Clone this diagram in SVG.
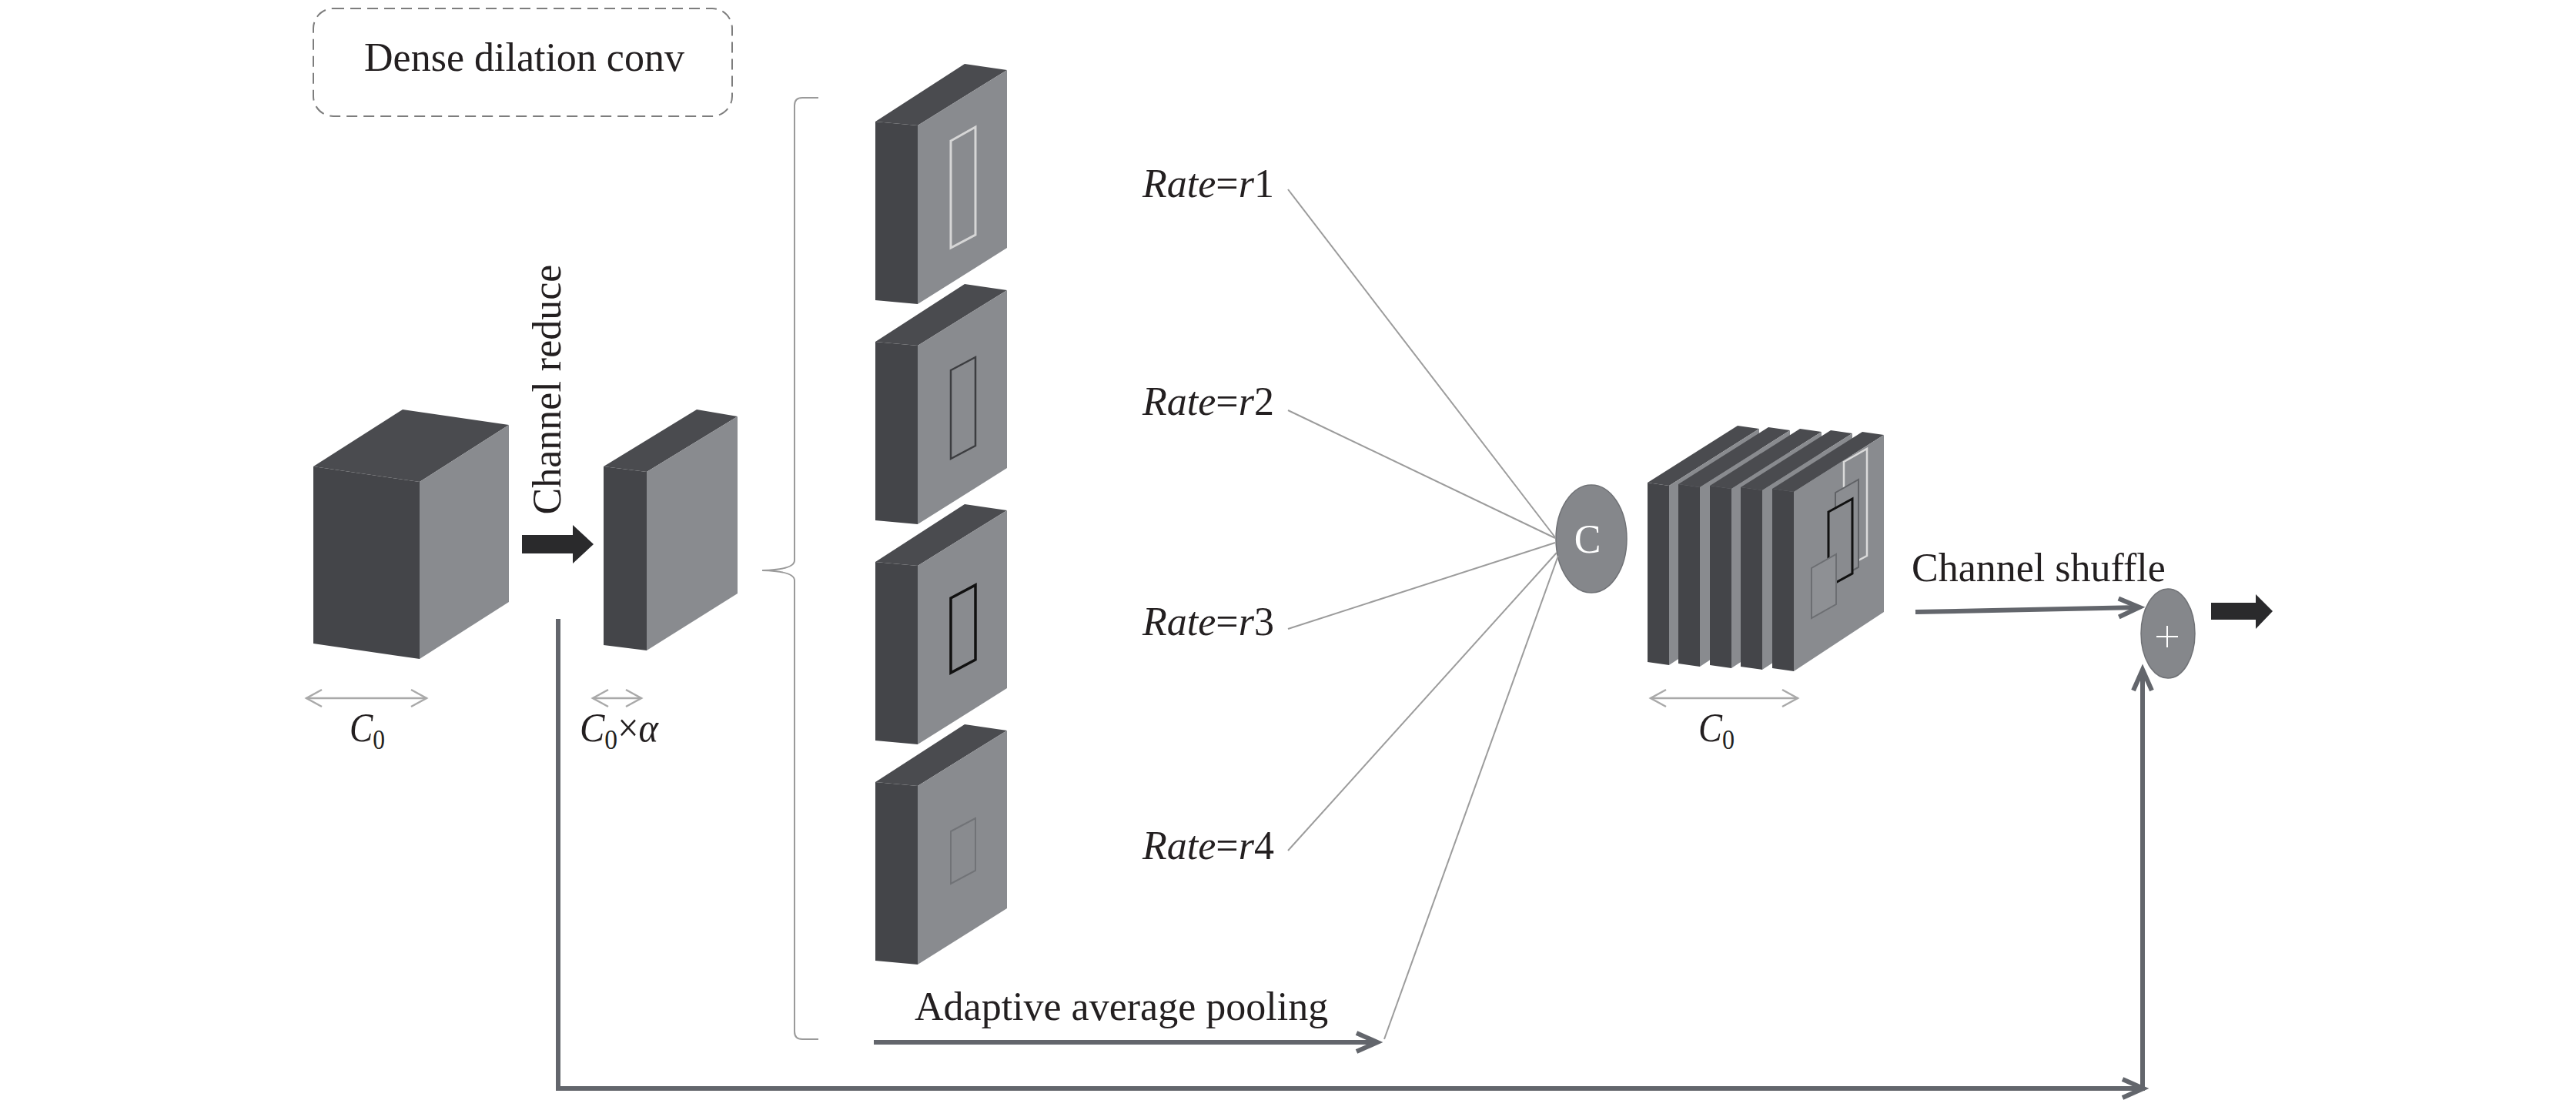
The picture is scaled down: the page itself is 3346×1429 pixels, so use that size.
<svg xmlns="http://www.w3.org/2000/svg" xmlns:xlink="http://www.w3.org/1999/xlink" width="3346" height="1429" viewBox="0 0 3346 1429">
<style>
.txt{font-family:"Liberation Serif","Times New Roman",serif;fill:#231f20;font-size:52px}
.it{font-style:italic}
.dark{fill:#444549}
.top{fill:#4a4b4f}
.light{fill:#898b8f}
.conn{fill:none;stroke:#63666c;stroke-width:6}
.thin{fill:none;stroke:#9c9c9c;stroke-width:2}
.dim{fill:none;stroke:#a9a9a9;stroke-width:2.5}
.blk{fill:#2a2a2c}
.node{fill:#85878b;stroke:#707276;stroke-width:1.5}
</style>
<defs>
<marker id="chev" markerUnits="userSpaceOnUse" viewBox="-34 -18 46 36" markerWidth="46" markerHeight="36" refX="0" refY="0" orient="auto">
<path d="M-27,-12 L0,0 L-27,12" fill="none" stroke="#63666c" stroke-width="6"/>
</marker>
<marker id="dimhead" markerUnits="userSpaceOnUse" viewBox="-26 -15 32 30" markerWidth="32" markerHeight="30" refX="0" refY="0" orient="auto-start-reverse">
<path d="M-20,-11 L0,0 L-20,11" fill="none" stroke="#a9a9a9" stroke-width="2.5"/>
</marker>
<g id="block">
<polygon class="top" points="0,0 116,-75 171,-67 55,5"/>
<polygon class="dark" points="0,0 55,5 55,237 0,232"/>
<polygon class="light" points="55,5 171,-67 171,164 55,237"/>
</g>
<g id="slab">
<polygon class="top" points="0,0 117,-74 145,-70 28,4"/>
<polygon class="dark" points="0,0 28,4 28,237 0,233"/>
<polygon class="light" points="28,4 145,-70 145,160 28,237"/>
</g>
</defs>
<rect width="3346" height="1429" fill="#ffffff"/>

<g id="legend">
<rect x="407" y="11" width="544" height="140" rx="26" fill="none" stroke="#7d7d7d" stroke-width="2" stroke-dasharray="14 8"/>
<text class="txt" x="681" y="92" text-anchor="middle">Dense dilation conv</text>
</g>

<g id="input-cube">
<polygon class="top" points="407,606 523,532 661,552 545,626"/>
<polygon class="dark" points="407,606 545,626 545,856 407,836"/>
<polygon class="light" points="545,626 661,552 661,782 545,856"/>
<line class="dim" x1="398" y1="907" x2="554" y2="907" marker-start="url(#dimhead)" marker-end="url(#dimhead)"/>
<text class="txt it" x="454" y="963" font-size="54" textLength="46" lengthAdjust="spacingAndGlyphs">C<tspan font-style="normal" font-size="36" dy="10">0</tspan></text>
</g>

<g id="channel-reduce">
<text class="txt" transform="translate(728,506) rotate(-90)" text-anchor="middle">Channel reduce</text>
<polygon class="blk" points="678,695 744,695 744,682 771,707 744,732 744,719 678,719"/>
</g>

<g id="reduced-cube">
<polygon class="top" points="784,606 905,532 958,541 840,613"/>
<polygon class="dark" points="784,606 840,613 840,845 784,838"/>
<polygon class="light" points="840,613 958,541 958,771 840,845"/>
<line class="dim" x1="770" y1="907" x2="833" y2="907" marker-start="url(#dimhead)" marker-end="url(#dimhead)"/>
<text class="txt it" x="753" y="963" font-size="54" textLength="102" lengthAdjust="spacingAndGlyphs">C<tspan font-style="normal" font-size="36" dy="10">0</tspan><tspan font-style="normal" dy="-10">×</tspan>α</text>
</g>

<g id="bracket">
<path d="M1063,127 L1042,127 Q1032,127 1032,137 L1032,728 Q1032,740 990,741 Q1032,742 1032,754 L1032,1340 Q1032,1350 1042,1350 L1063,1350" fill="none" stroke="#9a9a9a" stroke-width="2"/>
</g>

<g id="branch-r1">
<use xlink:href="#block" href="#block" x="1137" y="158"/>
<polygon points="1235,183 1267,165 1267,305 1235,322" fill="none" stroke="#d6d6d6" stroke-width="3"/>
</g>
<g id="branch-r2">
<use xlink:href="#block" href="#block" x="1137" y="444"/>
<polygon points="1235,481 1267,464 1267,579 1235,596" fill="none" stroke="#3c3d40" stroke-width="2.5"/>
</g>
<g id="branch-r3">
<use xlink:href="#block" href="#block" x="1137" y="730"/>
<polygon points="1235,777 1267,760 1267,857 1235,874" fill="none" stroke="#111111" stroke-width="3.5"/>
</g>
<g id="branch-r4">
<use xlink:href="#block" href="#block" x="1137" y="1016"/>
<polygon points="1235,1080 1267,1063 1267,1131 1235,1148" fill="none" stroke="#717377" stroke-width="2"/>
</g>

<g id="rate-labels">
<text class="txt" x="1484" y="256"><tspan class="it">Rate</tspan>=<tspan class="it">r</tspan>1</text>
<text class="txt" x="1484" y="539"><tspan class="it">Rate</tspan>=<tspan class="it">r</tspan>2</text>
<text class="txt" x="1484" y="825"><tspan class="it">Rate</tspan>=<tspan class="it">r</tspan>3</text>
<text class="txt" x="1484" y="1116"><tspan class="it">Rate</tspan>=<tspan class="it">r</tspan>4</text>
<text class="txt" x="1188" y="1325">Adaptive average pooling</text>
</g>

<g id="concat">
<ellipse class="node" cx="2067" cy="700" rx="46" ry="70"/>
<text class="txt" x="2062" y="718" font-size="50" fill="#ffffff" style="fill:#ffffff" text-anchor="middle">C</text>
</g>

<g id="concat-output">
<use xlink:href="#slab" href="#slab" x="2140" y="627"/>
<use xlink:href="#slab" href="#slab" x="2180" y="629"/>
<use xlink:href="#slab" href="#slab" x="2221" y="631"/>
<use xlink:href="#slab" href="#slab" x="2261" y="633"/>
<use xlink:href="#slab" href="#slab" x="2302" y="635"/>
<polygon points="2395,600 2425,583 2425,722 2395,738" fill="none" stroke="#dadada" stroke-width="2.5"/>
<polygon points="2384,640 2414,623 2414,737 2384,753" fill="#8b8d91" stroke="#606266" stroke-width="2"/>
<polygon points="2375,665 2406,648 2406,745 2375,762" fill="#898b8f" stroke="#111111" stroke-width="3"/>
<polygon points="2353,738 2385,720 2385,785 2353,803" fill="#8e9094" stroke="#6c6e72" stroke-width="2"/>
<line class="dim" x1="2144" y1="907" x2="2335" y2="907" marker-start="url(#dimhead)" marker-end="url(#dimhead)"/>
<text class="txt it" x="2206" y="963" font-size="54" textLength="47" lengthAdjust="spacingAndGlyphs">C<tspan font-style="normal" font-size="36" dy="10">0</tspan></text>
</g>

<g id="add">
<ellipse class="node" cx="2816" cy="823" rx="35" ry="58"/>
<path d="M2801,827 H2829 M2815,813 V841" stroke="#ffffff" stroke-width="2" fill="none"/>
</g>

<g id="output-arrow">
<polygon class="blk" points="2872,783 2930,783 2930,772 2952,794 2930,817 2930,805 2872,805"/>
</g>

<g id="shuffle-label">
<text class="txt" x="2483" y="755">Channel shuffle</text>
</g>

<g id="connectors">
<line class="thin" x1="1673" y1="246" x2="2020" y2="698"/>
<line class="thin" x1="1673" y1="533" x2="2020" y2="699"/>
<line class="thin" x1="1673" y1="817" x2="2020" y2="705"/>
<line class="thin" x1="1673" y1="1105" x2="2022" y2="718"/>
<line class="thin" x1="1798" y1="1350" x2="2024" y2="722"/>
<line class="conn" x1="1135" y1="1354" x2="1789" y2="1354" marker-end="url(#chev)"/>
<line class="conn" x1="2488" y1="795" x2="2779" y2="789" marker-end="url(#chev)"/>
<path class="conn" d="M725,804 V1414 H2784" marker-end="url(#chev)"/>
<line class="conn" x1="2783" y1="1417" x2="2783" y2="870" marker-end="url(#chev)"/>
</g>
</svg>
